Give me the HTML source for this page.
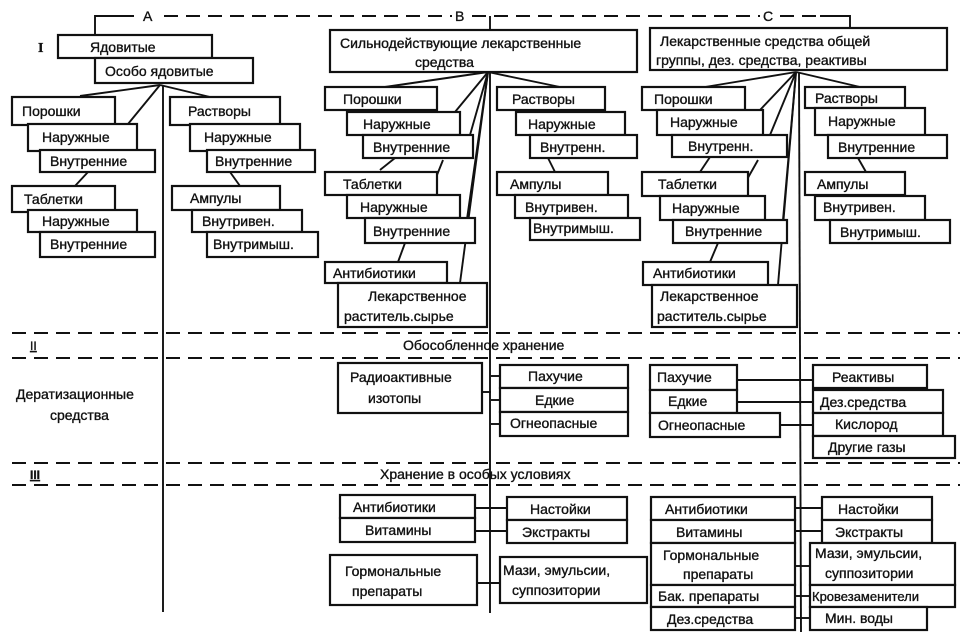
<!DOCTYPE html>
<html><head><meta charset="utf-8"><style>
html,body{margin:0;padding:0;background:#fff;}
svg{display:block;}
text{font-family:"Liberation Sans","DejaVu Sans",sans-serif;font-size:14px;fill:#111;stroke:#111;stroke-width:0.35;}
rect{fill:#fff;stroke:#111;stroke-width:2.2;}
line,polyline{stroke:#111;stroke-width:1.9;fill:none;}
.d{stroke-dasharray:14 8;stroke-width:2;}
</style></head><body>
<svg width="967" height="638" viewBox="0 0 967 638" xmlns="http://www.w3.org/2000/svg">
<line class="d" x1="120" y1="16" x2="850" y2="16"/>
<polyline points="95,35 95,16 130,16"/>
<rect x="140" y="6" width="18" height="16" style="stroke:none"/><text x="143" y="21">A</text>
<rect x="452" y="6" width="18" height="16" style="stroke:none"/><text x="455" y="21">B</text>
<rect x="760" y="6" width="20" height="16" style="stroke:none"/><text x="763" y="21">C</text>
<polyline points="820,16 850,16 850,28"/>
<line x1="490" y1="16" x2="490" y2="30"/>

<text x="38" y="52" style="font-family:'Liberation Serif',serif;font-weight:bold">I</text>
<rect x="58" y="35" width="154" height="23"/><text x="90" y="52">Ядовитые</text>
<rect x="95" y="58" width="158" height="25"/><text x="105" y="76">Особо ядовитые</text>
<line x1="163" y1="85" x2="163" y2="612"/>
<line x1="160" y1="85" x2="80" y2="96"/>
<line x1="160" y1="85" x2="128" y2="124"/>
<line x1="160" y1="85" x2="210" y2="97"/>
<line x1="88" y1="172" x2="75" y2="186"/>
<line x1="230" y1="172" x2="240" y2="186"/>
<rect x="12" y="97" width="103" height="28"/><text x="22" y="116">Порошки</text>
<rect x="28" y="124" width="109" height="27"/><text x="42" y="142">Наружные</text>
<rect x="40" y="150" width="115" height="22"/><text x="50" y="166">Внутренние</text>
<rect x="12" y="186" width="103" height="26"/><text x="24" y="204">Таблетки</text>
<rect x="28" y="210" width="109" height="22"/><text x="42" y="226">Наружные</text>
<rect x="40" y="232" width="115" height="25"/><text x="50" y="249">Внутренние</text>
<rect x="170" y="97" width="110" height="28"/><text x="188" y="116">Растворы</text>
<rect x="190" y="124" width="110" height="27"/><text x="204" y="142">Наружные</text>
<rect x="207" y="150" width="108" height="22"/><text x="215" y="166">Внутренние</text>
<rect x="172" y="186" width="108" height="24"/><text x="190" y="203">Ампулы</text>
<rect x="192" y="210" width="110" height="22"/><text x="202" y="226">Внутривен.</text>
<rect x="207" y="232" width="111" height="25"/><text x="213" y="249">Внутримыш.</text>

<rect x="330" y="30" width="307" height="42"/>
<text x="340" y="48">Сильнодействующие лекарственные</text>
<text x="415" y="67">средства</text>
<line x1="490" y1="72" x2="490" y2="613"/>
<line x1="488" y1="72" x2="385" y2="87"/>
<line x1="488" y1="72" x2="455" y2="112"/>
<line x1="488" y1="72" x2="470" y2="135"/>
<line x1="488" y1="72" x2="466" y2="226"/>
<line x1="488" y1="72" x2="460" y2="283"/>
<line x1="488" y1="72" x2="560" y2="87"/>
<line x1="443" y1="160" x2="435" y2="180"/>
<line x1="395" y1="158" x2="380" y2="170"/>
<line x1="405" y1="243" x2="398" y2="262"/>
<line x1="548" y1="158" x2="555" y2="172"/>
<rect x="325" y="87" width="112" height="23"/><text x="343" y="104">Порошки</text>
<rect x="347" y="112" width="113" height="23"/><text x="363" y="129">Наружные</text>
<rect x="363" y="135" width="110" height="23"/><text x="373" y="152">Внутренние</text>
<rect x="325" y="172" width="112" height="23"/><text x="343" y="189">Таблетки</text>
<rect x="347" y="195" width="113" height="23"/><text x="360" y="212">Наружные</text>
<rect x="365" y="218" width="110" height="25"/><text x="373" y="236">Внутренние</text>
<rect x="325" y="262" width="122" height="21"/><text x="333" y="278">Антибиотики</text>
<rect x="338" y="283" width="149" height="44"/><text x="368" y="301">Лекарственное</text><text x="344" y="321">раститель.сырье</text>
<rect x="497" y="87" width="108" height="23"/><text x="512" y="104">Растворы</text>
<rect x="516" y="112" width="109" height="23"/><text x="528" y="129">Наружные</text>
<rect x="530" y="135" width="107" height="23"/><text x="540" y="152">Внутренн.</text>
<rect x="497" y="172" width="111" height="23"/><text x="510" y="189">Ампулы</text>
<rect x="515" y="195" width="113" height="23"/><text x="525" y="212">Внутривен.</text>
<rect x="530" y="218" width="110" height="22"/><text x="533" y="233">Внутримыш.</text>

<rect x="650" y="28" width="297" height="42"/>
<text x="660" y="46">Лекарственные средства общей</text>
<text x="656" y="65">группы, дез. средства, реактивы</text>
<line x1="799" y1="72" x2="801" y2="632"/>
<line x1="796" y1="72" x2="705" y2="87"/>
<line x1="796" y1="72" x2="760" y2="110"/>
<line x1="796" y1="72" x2="770" y2="135"/>
<line x1="796" y1="72" x2="783" y2="220"/>
<line x1="796" y1="72" x2="778" y2="285"/>
<line x1="796" y1="72" x2="860" y2="87"/>
<line x1="758" y1="160" x2="745" y2="183"/>
<line x1="710" y1="157" x2="700" y2="172"/>
<line x1="718" y1="243" x2="710" y2="262"/>
<line x1="858" y1="158" x2="866" y2="172"/>
<rect x="642" y="87" width="103" height="23"/><text x="654" y="104">Порошки</text>
<rect x="657" y="110" width="106" height="25"/><text x="670" y="127">Наружные</text>
<rect x="672" y="135" width="115" height="22"/><text x="688" y="151">Внутренн.</text>
<rect x="642" y="172" width="106" height="24"/><text x="658" y="189">Таблетки</text>
<rect x="660" y="196" width="105" height="24"/><text x="672" y="213">Наружные</text>
<rect x="673" y="220" width="114" height="23"/><text x="685" y="236">Внутренние</text>
<rect x="643" y="262" width="125" height="23"/><text x="653" y="278">Антибиотики</text>
<rect x="652" y="285" width="145" height="42"/><text x="660" y="301">Лекарственное</text><text x="657" y="321">раститель.сырье</text>
<rect x="805" y="87" width="100" height="21"/><text x="815" y="103">Растворы</text>
<rect x="815" y="108" width="110" height="27"/><text x="828" y="126">Наружные</text>
<rect x="828" y="135" width="119" height="23"/><text x="838" y="152">Внутренние</text>
<rect x="805" y="172" width="100" height="23"/><text x="817" y="189">Ампулы</text>
<rect x="815" y="196" width="110" height="24"/><text x="823" y="212">Внутривен.</text>
<rect x="830" y="220" width="120" height="23"/><text x="840" y="237">Внутримыш.</text>

<line class="d" x1="12" y1="333" x2="960" y2="333"/>
<text x="30" y="350" style="font-size:12px;text-decoration:underline">II</text>
<text x="403" y="350">Обособленное хранение</text>
<line class="d" x1="12" y1="358" x2="960" y2="358"/>
<text x="16" y="399">Дератизационные</text>
<text x="50" y="420">средства</text>
<line class="d" x1="12" y1="463" x2="960" y2="463"/>
<text x="30" y="479" style="font-size:12px;font-weight:bold;text-decoration:underline">III</text>
<text x="380" y="479">Хранение в особых условиях</text>
<line class="d" x1="12" y1="485" x2="960" y2="485"/>

<rect x="338" y="363" width="144" height="50"/><text x="350" y="382">Радиоактивные</text><text x="368" y="403">изотопы</text>
<line x1="482" y1="392" x2="491" y2="392"/>
<line x1="491" y1="376" x2="500" y2="376"/>
<line x1="491" y1="400" x2="500" y2="400"/>
<line x1="491" y1="424" x2="500" y2="424"/>
<rect x="500" y="365" width="128" height="23"/><text x="528" y="381">Пахучие</text>
<rect x="500" y="388" width="128" height="24"/><text x="535" y="405">Едкие</text>
<rect x="500" y="412" width="128" height="24"/><text x="510" y="428">Огнеопасные</text>
<rect x="650" y="365" width="87" height="25"/><text x="657" y="382">Пахучие</text>
<rect x="650" y="390" width="87" height="23"/><text x="668" y="406">Едкие</text>
<rect x="650" y="413" width="130" height="24"/><text x="658" y="430">Огнеопасные</text>
<line x1="737" y1="380" x2="813" y2="380"/>
<line x1="737" y1="402" x2="813" y2="402"/>
<line x1="780" y1="425" x2="813" y2="425"/>
<rect x="813" y="365" width="114" height="23"/><text x="832" y="382">Реактивы</text>
<rect x="813" y="390" width="130" height="23"/><text x="820" y="407">Дез.средства</text>
<rect x="813" y="413" width="130" height="23"/><text x="835" y="429">Кислород</text>
<rect x="813" y="436" width="142" height="22"/><text x="828" y="452">Другие газы</text>

<rect x="340" y="495" width="135" height="23"/><text x="353" y="512">Антибиотики</text>
<rect x="340" y="518" width="135" height="24"/><text x="365" y="535">Витамины</text>
<rect x="330" y="555" width="147" height="50"/><text x="345" y="576">Гормональные</text><text x="352" y="596">препараты</text>
<line x1="475" y1="508" x2="507" y2="508"/>
<line x1="475" y1="531" x2="507" y2="531"/>
<line x1="477" y1="583" x2="500" y2="583"/>
<rect x="507" y="497" width="120" height="23"/><text x="530" y="514">Настойки</text>
<rect x="507" y="520" width="120" height="23"/><text x="522" y="537">Экстракты</text>
<rect x="500" y="557" width="147" height="46"/><text x="503" y="575">Мази, эмульсии,</text><text x="512" y="595">суппозитории</text>
<rect x="651" y="497" width="144" height="23"/><text x="665" y="514">Антибиотики</text>
<rect x="651" y="520" width="144" height="23"/><text x="676" y="537">Витамины</text>
<rect x="651" y="543" width="144" height="42"/><text x="663" y="560">Гормональные</text><text x="683" y="579">препараты</text>
<rect x="651" y="585" width="144" height="22"/><text x="658" y="601">Бак. препараты</text>
<rect x="651" y="607" width="144" height="23"/><text x="667" y="624">Дез.средства</text>
<line x1="795" y1="508" x2="822" y2="508"/>
<line x1="795" y1="531" x2="822" y2="531"/>
<line x1="795" y1="566" x2="810" y2="566"/>
<line x1="795" y1="596" x2="810" y2="596"/>
<line x1="795" y1="618" x2="810" y2="618"/>
<rect x="822" y="497" width="110" height="23"/><text x="838" y="514">Настойки</text>
<rect x="822" y="520" width="110" height="23"/><text x="835" y="537">Экстракты</text>
<rect x="810" y="543" width="145" height="42"/><text x="815" y="558">Мази, эмульсии,</text><text x="825" y="578">суппозитории</text>
<rect x="810" y="585" width="145" height="22"/><text x="812" y="601" style="font-size:13px">Кровезаменители</text>
<rect x="810" y="607" width="117" height="23"/><text x="825" y="623">Мин. воды</text>
</svg>
</body></html>
